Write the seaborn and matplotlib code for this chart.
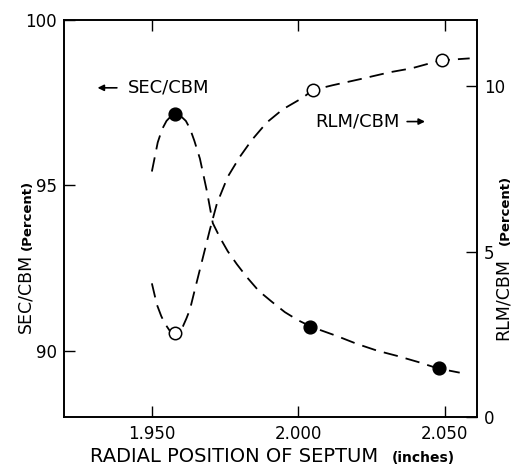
import matplotlib.pyplot as plt
import pandas as pd
import seaborn as sns

# measured points
sec_x = [1.958, 2.004, 2.048]
sec_y = [97.15, 90.72, 89.47]
rlm_x = [1.958, 2.005, 2.049]
rlm_y = [2.53, 9.88, 10.78]

# dashed guide curves
sec_curve_x = [1.9500, 1.9520, 1.9535, 1.9550, 1.9566, 1.9582, 1.9598, 1.9616, 1.9630,
               1.9645, 1.9664, 1.9688, 1.9708, 1.9732, 1.9759, 1.9790, 1.9824, 1.9865,
               1.9910, 1.9954, 1.9998, 2.0046, 2.0131, 2.0200, 2.0271, 2.0336, 2.0410,
               2.0476, 2.0551]
sec_curve_y = [95.42, 96.30, 96.70, 96.95, 97.10, 97.15, 97.10, 96.95, 96.72,
               96.35, 95.81, 94.82, 93.86, 93.43, 93.01, 92.62, 92.23, 91.81,
               91.48, 91.17, 90.93, 90.72, 90.45, 90.21, 90.00, 89.85, 89.66,
               89.47, 89.34]
rlm_curve_x = [1.9500, 1.9517, 1.9532, 1.9544, 1.9560, 1.9578, 1.9594, 1.9606, 1.9618,
               1.9630, 1.9647, 1.9664, 1.9681, 1.9698, 1.9722, 1.9759, 1.9800, 1.9841,
               1.9892, 1.9947, 2.0015, 2.0049, 2.0118, 2.0210, 2.0312, 2.0387, 2.0486,
               2.0585]
rlm_curve_y = [4.04, 3.40, 3.05, 2.83, 2.62, 2.53, 2.58, 2.74, 2.98,
               3.25, 3.86, 4.46, 5.06, 5.66, 6.45, 7.26, 7.86, 8.37,
               8.90, 9.30, 9.65, 9.88, 10.03, 10.21, 10.42, 10.54, 10.78,
               10.84]

xticks = [1.950, 2.000, 2.050]
xtick_labels = ["1.950", "2.000", "2.050"]
left_ticks = [90, 95, 100]
right_ticks = [0, 5, 10]

sns.set_style("ticks")
plt.rcParams["font.family"] = ["DejaVu Sans"]
plt.rcParams["text.color"] = "black"
plt.rcParams["xtick.color"] = "black"
plt.rcParams["ytick.color"] = "black"

W, H = 515, 468
fig = plt.figure(figsize=(W / 100, H / 100), dpi=100)
ax = fig.add_axes([64 / W, 1 - 417 / H, (477 - 64) / W, (417 - 20) / H])
ax2 = ax.twinx()

dash = (0, (8, 4.5))
sns.lineplot(x=sec_curve_x, y=sec_curve_y, ax=ax, sort=False, estimator=None,
             color="black", lw=1.3, linestyle=dash)
sns.lineplot(x=rlm_curve_x, y=rlm_curve_y, ax=ax2, sort=False, estimator=None,
             color="black", lw=1.3, linestyle=dash)
sns.scatterplot(x=sec_x, y=sec_y, ax=ax, color="black", s=85, edgecolor="black",
                linewidth=1, zorder=5)
sns.scatterplot(x=rlm_x, y=rlm_y, ax=ax2, facecolor="white", s=80, edgecolor="black",
                linewidth=1.1, zorder=5)

ax.set_xlim(1.920, 2.061)
ax.set_ylim(88, 100)
ax2.set_ylim(0, 12)

ax.set_xticks(xticks)
ax.set_xticklabels(xtick_labels)
ax.set_yticks(left_ticks)
ax2.set_yticks(right_ticks)

ax.tick_params(axis="x", direction="in", length=8, width=1, top=True, labelsize=12,
               pad=6, colors="black")
ax.tick_params(axis="y", direction="in", length=8, width=1, right=False, labelsize=12,
               pad=5, colors="black")
ax2.tick_params(axis="y", direction="in", length=8, width=1, labelsize=12, pad=5,
                colors="black")
ax.set_xlabel("")
ax.set_ylabel("")
ax2.set_ylabel("")
for a in (ax, ax2):
    for s in a.spines.values():
        s.set_linewidth(1.2)
        s.set_color("black")

# in-plot labels with arrows
ax.annotate("", xy=(1.9305, 97.95), xytext=(1.9390, 97.95),
            arrowprops=dict(arrowstyle="-|>", color="black", lw=1.2, mutation_scale=9))
ax.text(1.9418, 97.95, "SEC/CBM", fontsize=13, va="center", ha="left")
ax.text(2.0058, 96.93, "RLM/CBM", fontsize=13, va="center", ha="left")
ax.annotate("", xy=(2.0442, 96.93), xytext=(2.0362, 96.93),
            arrowprops=dict(arrowstyle="-|>", color="black", lw=1.2, mutation_scale=9))

# axis titles, with the small "(Percent)" / "(inches)" parts
fig.text(34 / W, 1 - 333 / H, "SEC/CBM", rotation=90, ha="right", va="bottom", fontsize=12.5)
fig.text(34 / W, 1 - 250 / H, "(Percent)", rotation=90, ha="right", va="bottom", fontsize=9.5,
         weight="bold")
fig.text(512 / W, 1 - 340 / H, "RLM/CBM", rotation=90, ha="right", va="bottom", fontsize=12.5)
fig.text(512 / W, 1 - 245 / H, "(Percent)", rotation=90, ha="right", va="bottom", fontsize=9.5,
         weight="bold")
fig.text(90 / W, 1 - 462 / H, "RADIAL POSITION OF SEPTUM", ha="left", va="baseline",
         fontsize=14)
fig.text(392 / W, 1 - 462 / H, "(inches)", ha="left", va="baseline", fontsize=10,
         weight="bold")

fig.savefig("out.png", dpi=100)
